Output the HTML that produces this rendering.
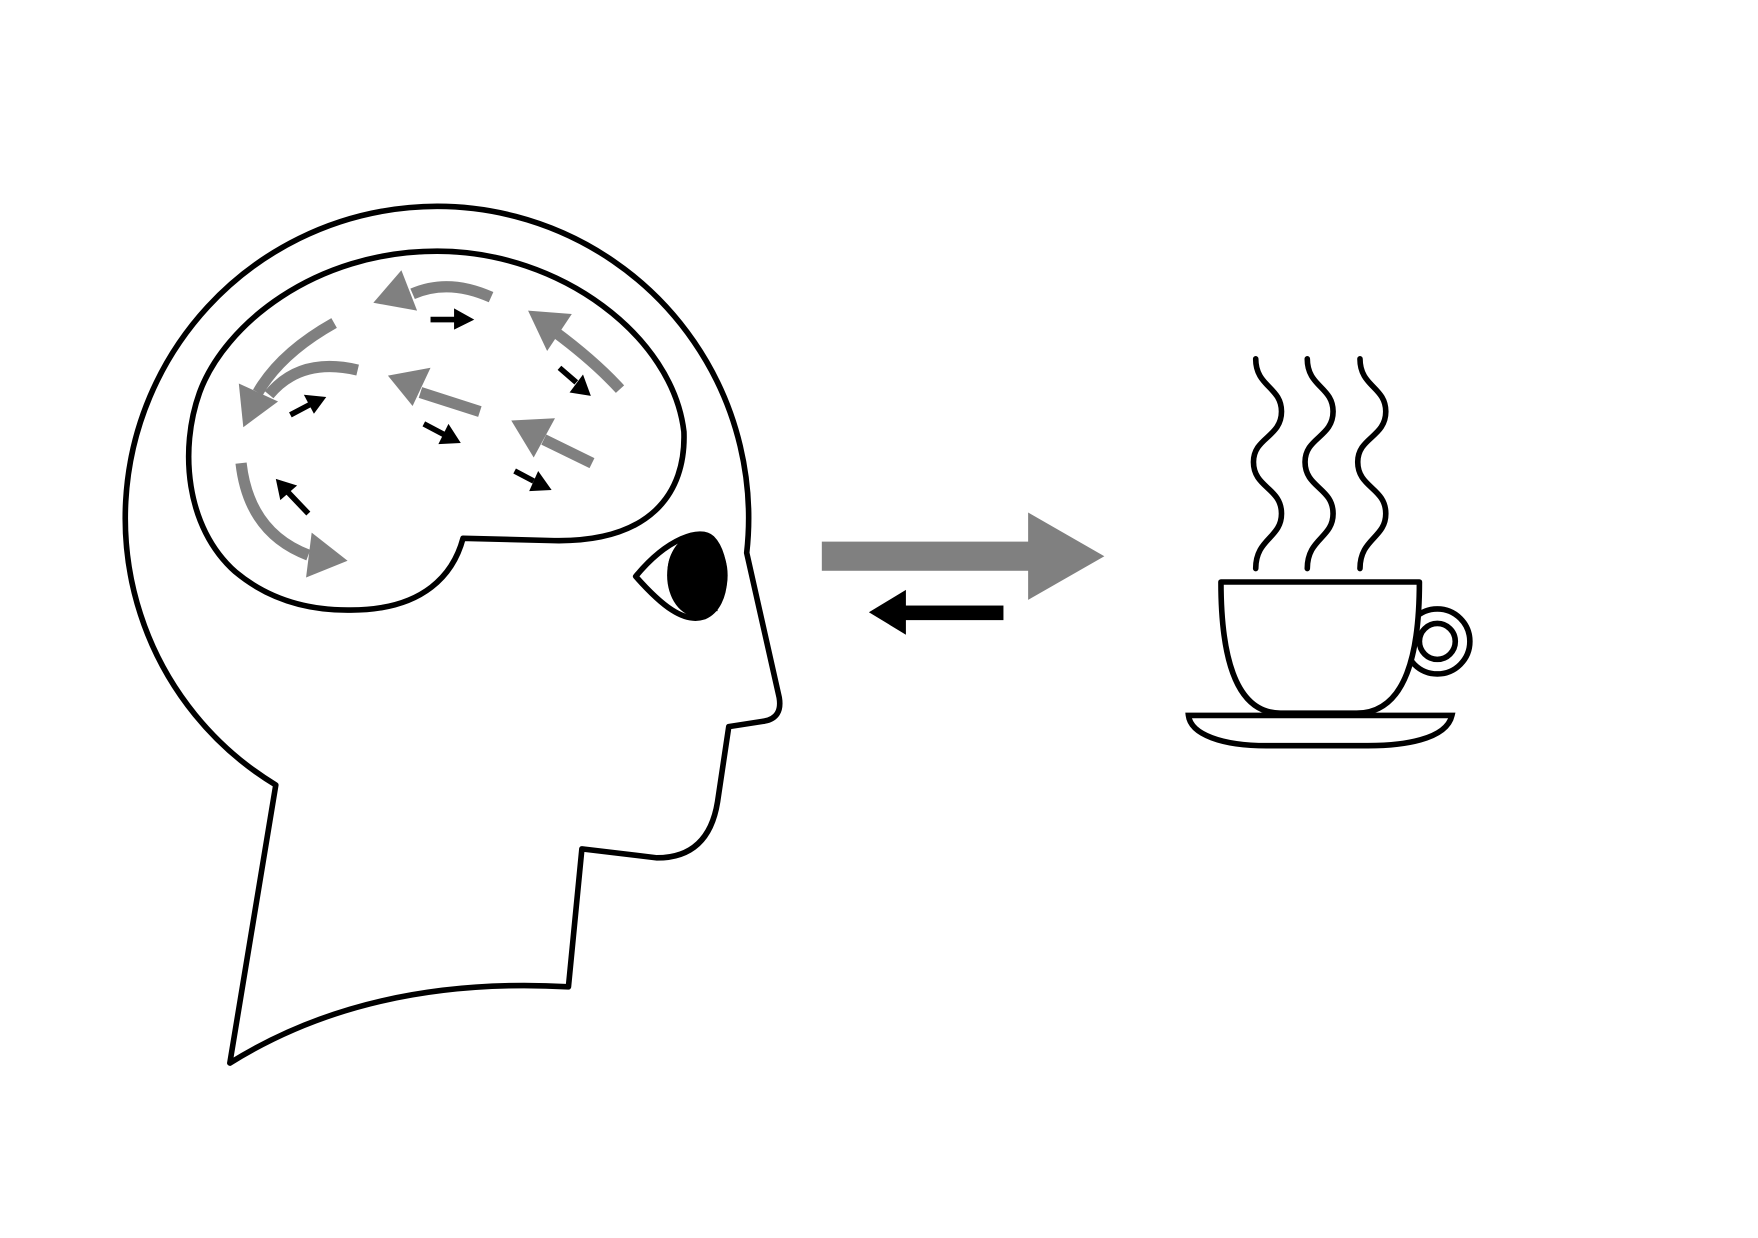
<!DOCTYPE html>
<html><head><meta charset="utf-8"><style>html,body{margin:0;padding:0;background:#fff}svg{display:block}</style></head>
<body>
<svg width="1758" height="1238" viewBox="0 0 1568 1104" preserveAspectRatio="none" xmlns="http://www.w3.org/2000/svg">
<rect width="1568" height="1104" fill="#fff"/>
<g fill="none" stroke="#000" stroke-width="5" stroke-linejoin="round">
<path d="M205,948 L246,700 A278,278 0 1 1 666,493 L695,622 Q698,640 682,643 L650,648 L640,715 Q632,765 586,765 L519,757 L507,880 Q330,870 205,948 Z"/>
<path d="M413,480 L490,482 C580,485 612,440 610,385 C600,300 500,224 390,224 C280,224 200,290 178,350 C160,400 165,470 210,510 C240,535 275,544 310,544 C380,545 405,510 413,480 Z"/>
<path d="M567,514 C595,480 625,470 635,480 C650,495 652,540 628,550 C610,556 590,540 567,514 Z"/>
</g>
<ellipse cx="622" cy="513" rx="27" ry="37" fill="#000"/>
<path d="M605,485 C590,500 592,530 615,545 L640,545 L640,485 Z" fill="#000"/>
<g fill="none" stroke="#808080" stroke-width="10">
<path d="M438,265 Q400,248 368,262"/>
<path d="M298,288 Q250,315 230,350"/>
<path d="M319,330 Q268,318 240,352"/>
<path d="M215,413 Q222,475 275,495"/>
<path d="M428,367 L375,350"/>
<path d="M553,347 Q530,322 495,296"/>
<path d="M528,413 L485,392"/>
</g>
<g fill="#808080">
<polygon points="333,270 358,241 372,277"/>
<polygon points="213,342 217,381 248,358"/>
<polygon points="278,475 310,500 273,515"/>
<polygon points="346,335 384,328 368,362"/>
<polygon points="471,277 510,280 488,313"/>
<polygon points="456,375 495,373 476,408"/>
</g>
<g fill="none" stroke="#000" stroke-width="5">
<path d="M384,285 L408,285"/><path d="M259,370 L276,361"/><path d="M499,328 L514,341"/>
<path d="M378,378 L397,388"/><path d="M459,420 L476,429"/><path d="M275,458 L256,438"/>
</g>
<g fill="#000">
<polygon points="405,275 423,285 405,294"/><polygon points="271,352 291,354 280,369"/>
<polygon points="520,334 527,353 508,350"/><polygon points="400,378 411,395 391,396"/>
<polygon points="480,420 492,437 472,438"/><polygon points="246,427 265,433 250,446"/>
</g>
<rect x="733" y="483" width="186" height="26" fill="#808080"/>
<polygon points="917,457 985,496 917,535" fill="#808080"/>
<rect x="806" y="540" width="89" height="13" fill="#000"/>
<polygon points="775,546 808,526 808,566" fill="#000"/>
<g fill="none" stroke="#000" stroke-width="5" stroke-linecap="round">
<path d="M1120,320 C1120,345 1143,345 1143,367 C1143,390 1118,390 1118,412 C1118,435 1143,435 1143,458 C1143,480 1120,480 1120,507"/>
<path d="M1166,320 C1166,345 1189,345 1189,367 C1189,390 1164,390 1164,412 C1164,435 1189,435 1189,458 C1189,480 1166,480 1166,507"/>
<path d="M1213,320 C1213,345 1236,345 1236,367 C1236,390 1211,390 1211,412 C1211,435 1236,435 1236,458 C1236,480 1213,480 1213,507"/>
<circle cx="1282" cy="572" r="29"/>
<circle cx="1282" cy="572" r="16"/>
<path d="M1089,519 L1266,519 C1266,580 1255,636 1210,636 L1142,636 C1100,636 1089,580 1089,519 Z" stroke-linejoin="round" fill="#fff"/>
<path d="M1060,638 L1295,638 C1290,660 1250,665 1220,665 L1130,665 C1090,665 1062,655 1060,638 Z"/>
</g>
</svg>
</body></html>
